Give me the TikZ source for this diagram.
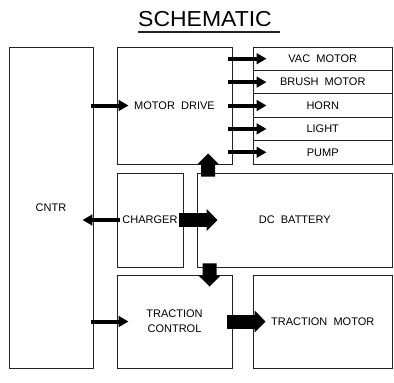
\documentclass[tikz,border=0pt]{standalone}
\usepackage{fontspec}
\setmainfont{Liberation Sans}
\usepackage{graphicx}
\usetikzlibrary{arrows.meta, calc}
\definecolor{boxline}{HTML}{222222}
\tikzset{
  blk/.style={draw=boxline, line width=0.8pt, inner sep=0pt, align=center,
              font=\fontsize{9.4}{12.5}\selectfont},
  flow/.style={-{Triangle[length=0.3cm, width=0.32cm]}, line width=0.12cm},
  fat/.style={-{Triangle[length=0.33cm, width=0.64cm]}, line width=0.42cm},
}
\begin{document}
\begin{tikzpicture}[x=0.03cm, y=-0.03cm]
  \useasboundingbox (0,0) rectangle (394,382);
  % title
  \node[font=\fontsize{18.5}{22}\selectfont, inner sep=0pt, anchor=base west] (title) at (138,26) {\scalebox{1.06}[1]{SCHEMATIC}};
  \draw[line width=1.6pt, draw=boxline] ($(title.base west)+(0,6)$) -- ($(title.base east)+(8,6)$);

  % blocks
  \node[blk, minimum width=2.52cm, minimum height=9.63cm] (cntr) at (51,207.5) {CNTR};
  \node[blk, minimum width=3.45cm, minimum height=3.51cm] (md) at (174.5,105.5) {MOTOR~~DRIVE};
  \foreach \i/\lbl in {1/VAC~~MOTOR, 2/BRUSH~~MOTOR, 3/HORN, 4/LIGHT, 5/PUMP}{
    \node[blk, minimum width=4.185cm, minimum height=0.702cm] (out\i) at (322.75,47+23.4*\i-11.7) {\lbl};
  }
  \node[blk, minimum width=1.98cm, minimum height=2.82cm] (chg) at (150,220) {CHARGER};
  \node[blk, minimum width=5.865cm, minimum height=2.82cm] (bat) at (294.75,220) {DC~~BATTERY};
  \node[blk, minimum width=3.45cm, minimum height=2.79cm] (tc) at (174.5,321.5) {TRACTION\\CONTROL};
  \node[blk, minimum width=4.185cm, minimum height=2.79cm] (tm) at (322.75,321.5) {TRACTION~~MOTOR};

  % arrows
  \draw[flow] ($(cntr.east |- md.west)+(-2,0)$) -- ($(md.west)+(12,0)$);
  \foreach \i in {1,...,5}{
    \draw[flow] ($(md.east |- out\i.west)+(-4,0)$) -- ($(out\i.west)+(14,0)$);
  }
  \draw[flow] ($(chg.west)+(3,0)$) -- ($(cntr.east |- chg.west)+(-11,0)$);
  \draw[flow] ($(cntr.east |- tc.west)+(-2,0)$) -- ($(tc.west)+(12,0)$);
  \draw[fat] ($(bat.north west)+(11.5,4)$) -- ($(md.south west)+(91.5,-11)$);
  \draw[fat] ($(chg.east)+(-4,0)$) -- ($(bat.west)+(21,0)$);
  \draw[fat] ($(bat.south west)+(13,-4)$) -- ($(tc.north west)+(93,12)$);
  \draw[fat] ($(tc.east)+(-5,0)$) -- ($(tm.west)+(13,0)$);
\end{tikzpicture}
\end{document}
